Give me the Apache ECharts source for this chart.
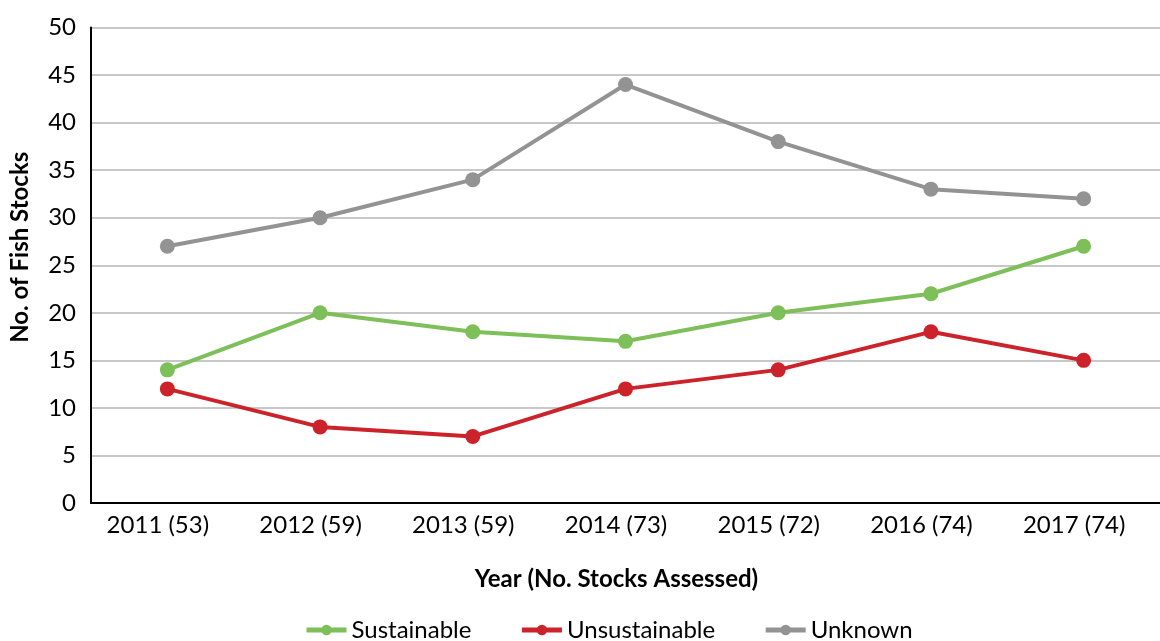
<!DOCTYPE html>
<html><head><meta charset="utf-8">
<script src="https://cdn.jsdelivr.net/npm/echarts@6/dist/echarts.min.js"></script>
<style>html,body{margin:0;padding:0;background:#fff}#c{width:1160px;height:641px}</style>
</head><body><div id="c"></div>
<script>
const categories = ['2011 (53)','2012 (59)','2013 (59)','2014 (73)','2015 (72)','2016 (74)','2017 (74)'];
const sustainable = [14,20,18,17,20,22,27];
const unsustainable = [12,8,7,12,14,18,15];
const unknown = [27,30,34,44,38,33,32];
const font = 'Lato, "Open Sans", sans-serif';
const chart = echarts.init(document.getElementById('c'));
function s(name, data, color){
  return {name, type:'line', data, symbol:'circle', symbolSize:15,
    lineStyle:{width:4,color}, itemStyle:{color}, z:3};
}
chart.setOption({
  animation:false,
  grid:{left:91,right:-13,top:27.5,bottom:138},
  legend:{bottom:-6,left:299,itemWidth:40,itemHeight:13,itemGap:48,
    lineStyle:{width:5},
    textStyle:{fontFamily:font,fontSize:24,color:'#000'},
    data:['Sustainable','Unsustainable','Unknown']},
  xAxis:{type:'category',data:categories,boundaryGap:true,
    axisLine:{lineStyle:{color:'#000',width:2}},axisTick:{show:false},
    axisLabel:{fontFamily:font,fontSize:24,color:'#000',margin:10,padding:[0,19,0,0]},
    name:'Year (No. Stocks Assessed)',nameLocation:'middle',nameGap:64,
    nameTextStyle:{fontFamily:font,fontSize:24,fontWeight:'bold',color:'#000',padding:[0,18,0,0]}},
  yAxis:{type:'value',min:0,max:50,interval:5,
    axisLine:{show:true,lineStyle:{color:'#000',width:2}},axisTick:{show:false},
    splitLine:{lineStyle:{color:'#c8c8c8',width:2}},
    axisLabel:{fontFamily:font,fontSize:24,color:'#000',margin:15},
    name:'No. of Fish Stocks',nameLocation:'middle',nameGap:59,
    nameTextStyle:{fontFamily:font,fontSize:24,fontWeight:'bold',color:'#000',padding:[0,0,0,36]}},
  series:[s('Sustainable',sustainable,'#7dbf58'),s('Unsustainable',unsustainable,'#cc2229'),s('Unknown',unknown,'#939393')]
});
</script></body></html>
